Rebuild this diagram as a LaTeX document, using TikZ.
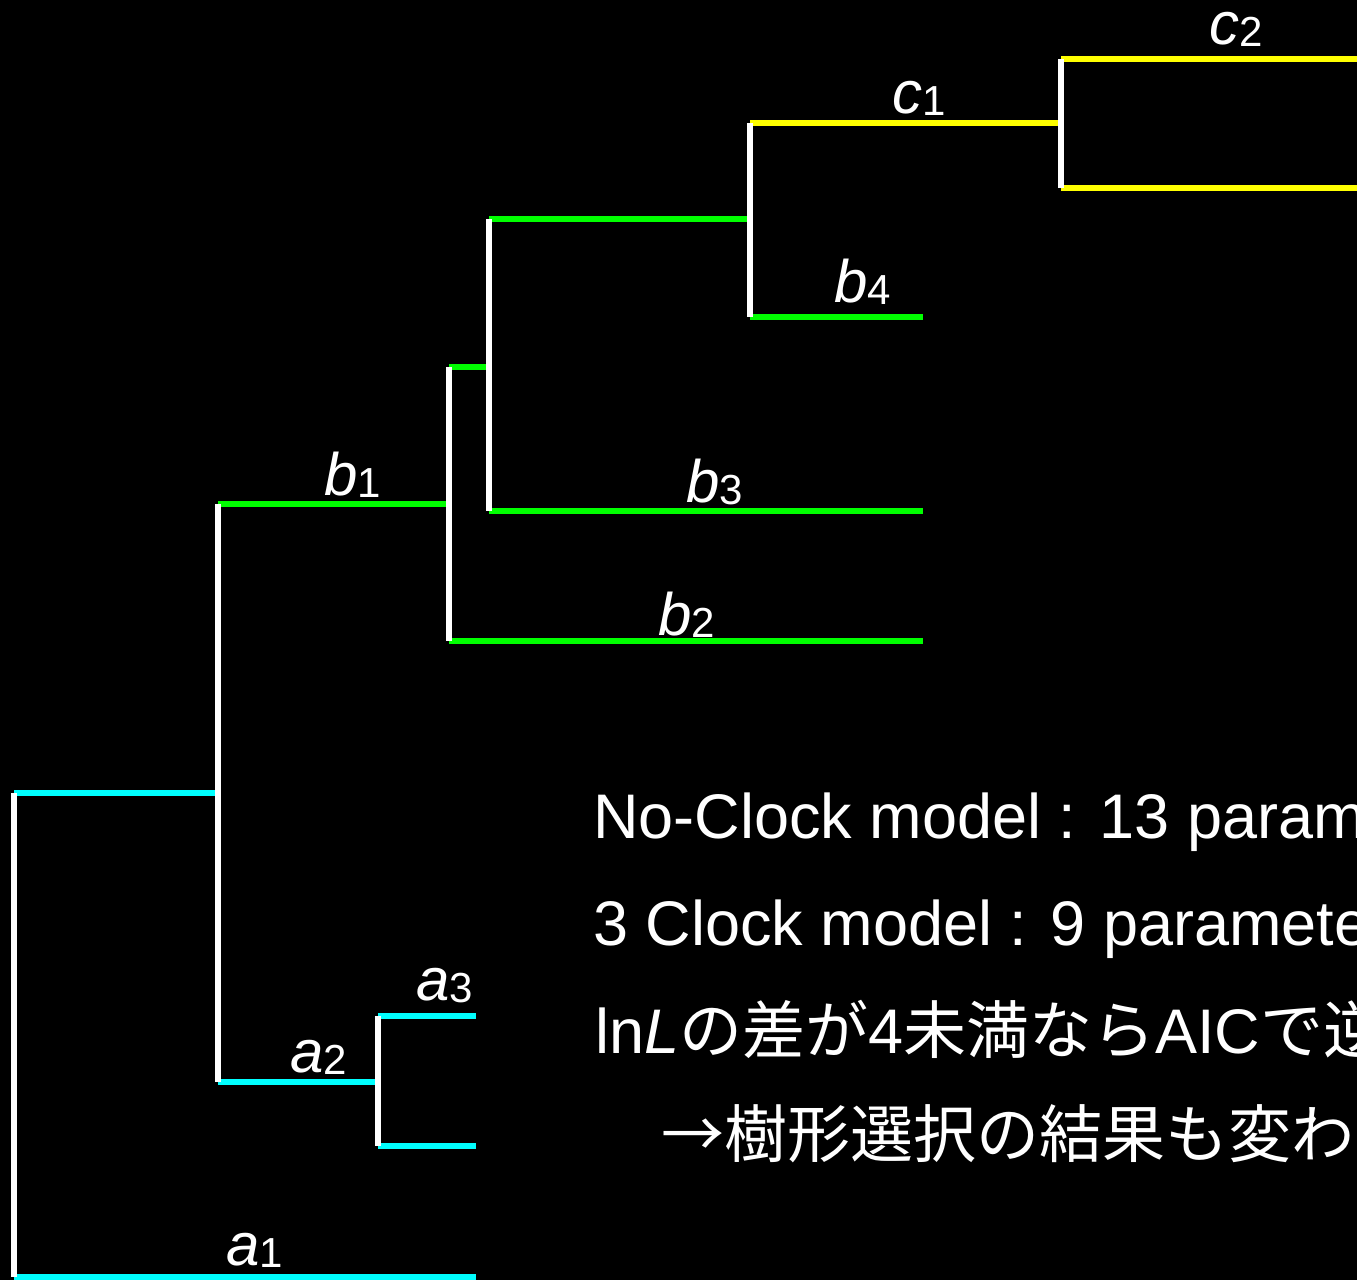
\documentclass[tikz,border=0pt]{standalone}
\usepackage{fontspec}
\setmainfont{Liberation Sans}
\newfontfamily\jpfont{Noto Sans CJK JP}
\definecolor{cyanC}{RGB}{0,255,255}
\definecolor{greenC}{RGB}{0,255,0}
\definecolor{yellowC}{RGB}{255,255,0}
\newcommand\brlab[2]{\textit{#1}{\fontsize{42}{42}\selectfont\raisebox{-2pt}{#2}}}
\tikzset{
  br/.style={line width=6pt, line cap=butt},
  wv/.style={br, draw=white},
  cyb/.style={br, draw=cyanC},
  grb/.style={br, draw=greenC},
  yeb/.style={br, draw=yellowC},
  lbl/.style={text=white, inner sep=0pt, anchor=base west, font=\fontsize{60}{72}\selectfont},
  txt/.style={text=white, inner sep=0pt, anchor=base west, font=\fontsize{63}{75}\selectfont},
}
\begin{document}
\begin{tikzpicture}[x=1pt, y=-1pt]
\fill[black] (0,0) rectangle (1357,1280);
\useasboundingbox (0,0) rectangle (1357,1280);
\clip (0,0) rectangle (1357,1280);

% junction coordinates
\coordinate (r1) at (14,793);
\coordinate (r2) at (14,1277);
\coordinate (a1e) at (476,1277);
\coordinate (n1) at (218,793);
\coordinate (n1t) at (218,504);
\coordinate (n1b) at (218,1082);
\coordinate (n2) at (378,1082);
\coordinate (n2t) at (378,1016);
\coordinate (n2b) at (378,1146);
\coordinate (a3e) at (476,1016);
\coordinate (a4e) at (476,1146);
\coordinate (n3) at (449,504);
\coordinate (n3t) at (449,367);
\coordinate (n3b) at (449,641);
\coordinate (b2e) at (923,641);
\coordinate (n4) at (489,367);
\coordinate (n4t) at (489,219);
\coordinate (n4b) at (489,511);
\coordinate (b3e) at (923,511);
\coordinate (n5) at (750,219);
\coordinate (n5t) at (750,123);
\coordinate (n5b) at (750,317);
\coordinate (b4e) at (923,317);
\coordinate (n6) at (1061,123);
\coordinate (n6t) at (1061,59);
\coordinate (n6b) at (1061,188);
\coordinate (c2e) at (1357,59);
\coordinate (c3e) at (1357,188);

% horizontal branches
\draw[cyb] (r1) -- (n1);
\draw[cyb] (r2) -- (a1e);
\draw[cyb] (n1b) -- (n2);
\draw[cyb] (n2t) -- (a3e);
\draw[cyb] (n2b) -- (a4e);
\draw[grb] (n1t) -- (n3);
\draw[grb] (n3t) -- (n4);
\draw[grb] (n3b) -- (b2e);
\draw[grb] (n4b) -- (b3e);
\draw[grb] (n4t) -- (n5);
\draw[grb] (n5b) -- (b4e);
\draw[yeb] (n5t) -- (n6);
\draw[yeb] (n6t) -- (c2e);
\draw[yeb] (n6b) -- (c3e);

% vertical connectors
\draw[wv] (r1) -- (r2);
\draw[wv] (n1t) -- (n1b);
\draw[wv] (n2t) -- (n2b);
\draw[wv] (n3t) -- (n3b);
\draw[wv] (n4t) -- (n4b);
\draw[wv] (n5t) -- (n5b);
\draw[wv] (n6t) -- (n6b);

% branch labels
\node[lbl] (lc2) at (1209,44) {\brlab{c}{2}};
\node[lbl] (lc1) at (892,113) {\brlab{c}{1}};
\node[lbl] (lb4) at (834,302) {\brlab{b}{4}};
\node[lbl] (lb1) at (324,495) {\brlab{b}{1}};
\node[lbl] (lb3) at (686,502) {\brlab{b}{3}};
\node[lbl] (lb2) at (658,635) {\brlab{b}{2}};
\node[lbl] (la3) at (416,1000) {\brlab{a}{3}};
\node[lbl] (la2) at (290,1072) {\brlab{a}{2}};
\node[lbl] (la1) at (226,1265) {\brlab{a}{1}};

% text
\node[txt] (t1) at (593,838) {No-Clock model : 13 parameters};
\node[txt] (t2) at (593,945) {3 Clock model : 9 parameters};
\node[txt] (t3) at (595,1053) {ln\textit{L}{\jpfont の差が}4{\jpfont 未満なら}AIC{\jpfont で逆転}};
\node[txt] (t4) at (598,1157) {{\jpfont 　→樹形選択の結果も変わる}};
\end{tikzpicture}
\end{document}
